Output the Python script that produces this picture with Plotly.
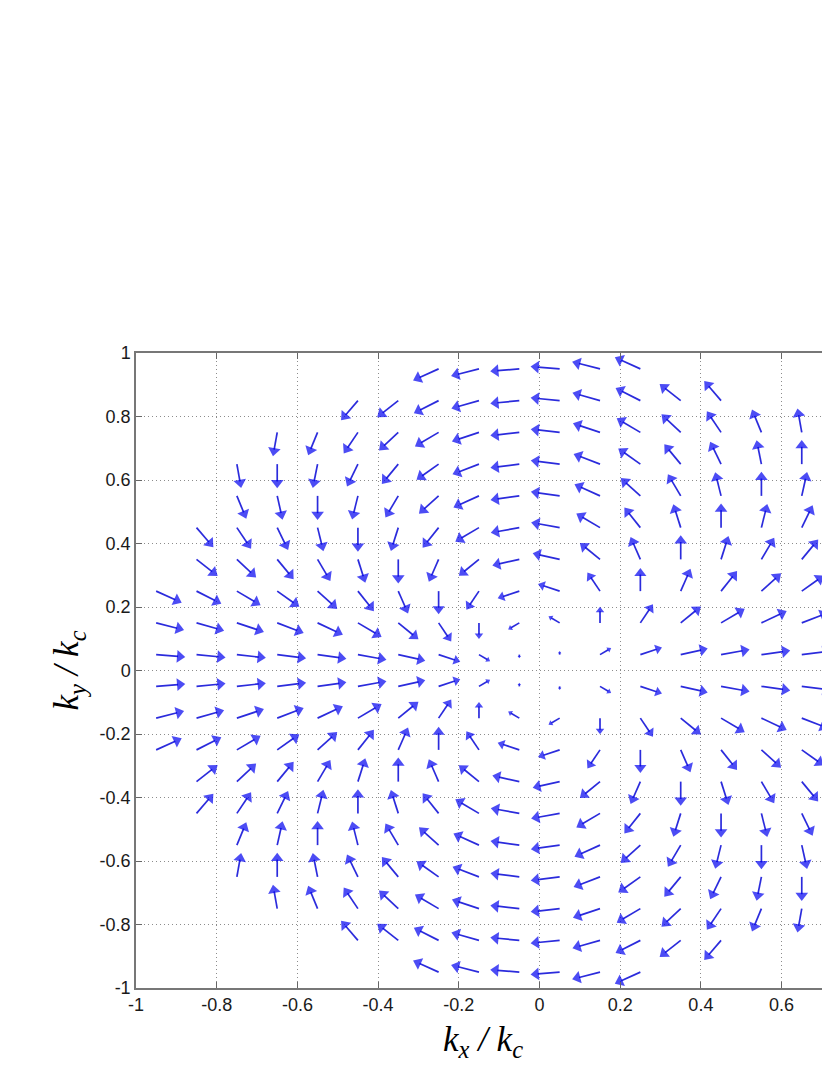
import math
import plotly.graph_objects as go

# grid columns / rows of the quiver (kx/kc, ky/kc)
kx_cols = [-0.95, -0.85, -0.75, -0.65, -0.55, -0.45, -0.35, -0.25, -0.15,
           -0.05, 0.05, 0.15, 0.25, 0.35, 0.45, 0.55, 0.65]
ky_rows = [0.95, 0.85, 0.75, 0.65, 0.55, 0.45, 0.35, 0.25, 0.15, 0.05,
           -0.05, -0.15, -0.25, -0.35, -0.45, -0.55, -0.65, -0.75, -0.85, -0.95]
# first column present in each row (points lie inside the unit disk)
row_first_kx = [-0.25, -0.45, -0.65, -0.75, -0.75, -0.85, -0.85, -0.95, -0.95, -0.95,
                -0.95, -0.95, -0.95, -0.85, -0.85, -0.75, -0.75, -0.65, -0.45, -0.25]

# arrow direction, degrees from +kx
angle_deg = [
    [-150, -162, -174, 174, 162, 150],
    [-124, -135, -147, -160, -173, 173, 160, 147, 135, 124],
    [-98, -108, -118, -130, -143, -157, -172, 172, 157, 143, 130, 118, 108, 98],
    [-82, -90, -99, -111, -123, -138, -154, -171, 171, 154, 138, 123, 111, 99, 90],
    [-72, -80, -90, -101, -115, -131, -150, -170, 170, 150, 131, 115, 101, 90, 80],
    [-56, -62, -69, -79, -90, -104, -122, -143, -167, 167, 143, 122, 104, 90, 79, 69],
    [-45, -50, -57, -65, -76, -90, -109, -134, -164, 164, 134, 109, 90, 76, 65, 57],
    [-30, -33, -37, -42, -49, -58, -71, -90, -118, -157, 157, 118, 90, 71, 58, 49, 42],
    [-18, -20, -23, -26, -31, -37, -46, -62, -90, -143, 143, 90, 62, 46, 37, 31, 26],
    [-6, -7, -8, -9, -10, -13, -16, -23, -37, -90, 90, 37, 23, 16, 13, 10, 9],
    [6, 7, 8, 9, 10, 13, 16, 23, 37, 90, -90, -37, -23, -16, -13, -10, -9],
    [18, 20, 23, 26, 31, 37, 46, 62, 90, 143, -143, -90, -62, -46, -37, -31, -26],
    [30, 33, 37, 42, 49, 58, 71, 90, 118, 157, -157, -118, -90, -71, -58, -49, -42],
    [45, 50, 57, 65, 76, 90, 109, 134, 164, -164, -134, -109, -90, -76, -65, -57],
    [56, 62, 69, 79, 90, 104, 122, 143, 167, -167, -143, -122, -104, -90, -79, -69],
    [72, 80, 90, 101, 115, 131, 150, 170, -170, -150, -131, -115, -101, -90, -80],
    [82, 90, 99, 111, 123, 138, 154, 171, -171, -154, -138, -123, -111, -99, -90],
    [98, 108, 118, 130, 143, 157, 172, -172, -157, -143, -130, -118, -108, -98],
    [124, 135, 147, 160, 173, -173, -160, -147, -135, -124],
    [150, 162, 174, -174, -162, -150],
]

# arrow length, thousandths of kc
arrow_len = [
    [70, 70, 70, 70, 70, 70],
    [70, 70, 70, 70, 70, 70, 70, 70, 70, 70],
    [70, 70, 70, 70, 70, 70, 70, 70, 70, 70, 70, 70, 70, 70],
    [70, 70, 70, 70, 70, 70, 70, 70, 70, 70, 70, 70, 70, 70, 70],
    [70, 70, 70, 70, 70, 70, 70, 70, 70, 70, 70, 70, 70, 70, 70],
    [70, 70, 70, 70, 70, 70, 70, 70, 70, 70, 70, 70, 70, 70, 70, 70],
    [70, 70, 70, 70, 70, 70, 69, 68, 67, 67, 68, 69, 70, 70, 70, 70],
    [70, 70, 70, 70, 70, 70, 69, 67, 62, 56, 56, 62, 67, 69, 70, 70, 70],
    [70, 70, 70, 70, 70, 70, 68, 62, 47, 33, 33, 47, 62, 68, 70, 70, 70],
    [70, 70, 70, 70, 70, 70, 67, 56, 33, 8, 8, 33, 56, 67, 70, 70, 70],
    [70, 70, 70, 70, 70, 70, 67, 56, 33, 8, 8, 33, 56, 67, 70, 70, 70],
    [70, 70, 70, 70, 70, 70, 68, 62, 47, 33, 33, 47, 62, 68, 70, 70, 70],
    [70, 70, 70, 70, 70, 70, 69, 67, 62, 56, 56, 62, 67, 69, 70, 70, 70],
    [70, 70, 70, 70, 70, 70, 69, 68, 67, 67, 68, 69, 70, 70, 70, 70],
    [70, 70, 70, 70, 70, 70, 70, 70, 70, 70, 70, 70, 70, 70, 70, 70],
    [70, 70, 70, 70, 70, 70, 70, 70, 70, 70, 70, 70, 70, 70, 70],
    [70, 70, 70, 70, 70, 70, 70, 70, 70, 70, 70, 70, 70, 70, 70],
    [70, 70, 70, 70, 70, 70, 70, 70, 70, 70, 70, 70, 70, 70],
    [70, 70, 70, 70, 70, 70, 70, 70, 70, 70],
    [70, 70, 70, 70, 70, 70],
]

x_ticks = [-1, -0.8, -0.6, -0.4, -0.2, 0, 0.2, 0.4, 0.6]
x_tick_text = ['-1', '-0.8', '-0.6', '-0.4', '-0.2', '0', '0.2', '0.4', '0.6']
y_ticks = [-1, -0.8, -0.6, -0.4, -0.2, 0, 0.2, 0.4, 0.6, 0.8, 1]
y_tick_text = ['-1', '-0.8', '-0.6', '-0.4', '-0.2', '0', '0.2', '0.4', '0.6', '0.8', '1']

# figure geometry (page has an 8px body margin)
W, H = 822, 1067
M = dict(l=128, r=0, t=345, b=87)
X_RANGE = [-1, 0.72]
Y_RANGE = [-1, 1]
px_x = (W - M['l'] - M['r']) / (X_RANGE[1] - X_RANGE[0])
px_y = (H - M['t'] - M['b']) / (Y_RANGE[1] - Y_RANGE[0])

# --- build arrows ---
shaft_x, shaft_y = [], []
head_x, head_y, head_ang, head_size = [], [], [], []
for ky, first, angs, lens in zip(ky_rows, row_first_kx, angle_deg, arrow_len):
    start = kx_cols.index(first)
    for j, (a, L) in enumerate(zip(angs, lens)):
        x0, y0 = kx_cols[start + j], ky
        u = L / 1000 * math.cos(math.radians(a))
        v = L / 1000 * math.sin(math.radians(a))
        shaft_x += [x0, x0 + 0.78 * u, None]
        shaft_y += [y0, y0 + 0.78 * v, None]
        head_x.append(x0 + 0.84 * u)
        head_y.append(y0 + 0.84 * v)
        head_ang.append(math.degrees(math.atan2(u * px_x, v * px_y)))
        head_size.append(max(11 * L / 70, 3))

fig = go.Figure()
fig.add_trace(go.Scatter(x=shaft_x, y=shaft_y, mode='lines',
                         line=dict(color='#2b2bdc', width=1.7),
                         hoverinfo='skip', showlegend=False))
fig.add_trace(go.Scatter(x=head_x, y=head_y, mode='markers',
                         marker=dict(symbol='triangle-up', size=head_size, angle=head_ang,
                                     color='#0000f0', line=dict(width=0)),
                         hoverinfo='skip', showlegend=False))

axis_font = dict(family='Liberation Sans, Arial, sans-serif', size=18, color='#1a1a1a')
title_font = dict(family='Liberation Serif, Times New Roman, serif', size=35, color='#000000')

fig.update_layout(
    width=W, height=H,
    margin=M,
    paper_bgcolor='white', plot_bgcolor='white',
    showlegend=False,
    xaxis=dict(
        range=X_RANGE, tickvals=x_ticks, ticktext=x_tick_text,
        ticks='inside', ticklen=6, tickcolor='#666666', tickwidth=1.2,
        showline=True, linecolor='#777777', linewidth=1.5, mirror='ticks',
        showgrid=True, gridcolor='#8c8c8c', griddash='1px,3px', gridwidth=1,
        zeroline=False, tickfont=axis_font,
        title=dict(text='<i>k</i><sub><i>x</i></sub><i> / k</i><sub><i>c</i></sub>',
                   font=title_font, standoff=12),
    ),
    yaxis=dict(
        range=Y_RANGE, tickvals=y_ticks, ticktext=y_tick_text,
        ticks='inside', ticklen=6, tickcolor='#666666', tickwidth=1.2,
        showline=True, linecolor='#777777', linewidth=1.5,
        showgrid=True, gridcolor='#8c8c8c', griddash='1px,3px', gridwidth=1,
        zeroline=False, tickfont=axis_font,
        title=dict(text='<i>k</i><sub><i>y</i></sub><i> / k</i><sub><i>c</i></sub>',
                   font=title_font, standoff=10),
    ),
)

fig.write_html("out.html")
